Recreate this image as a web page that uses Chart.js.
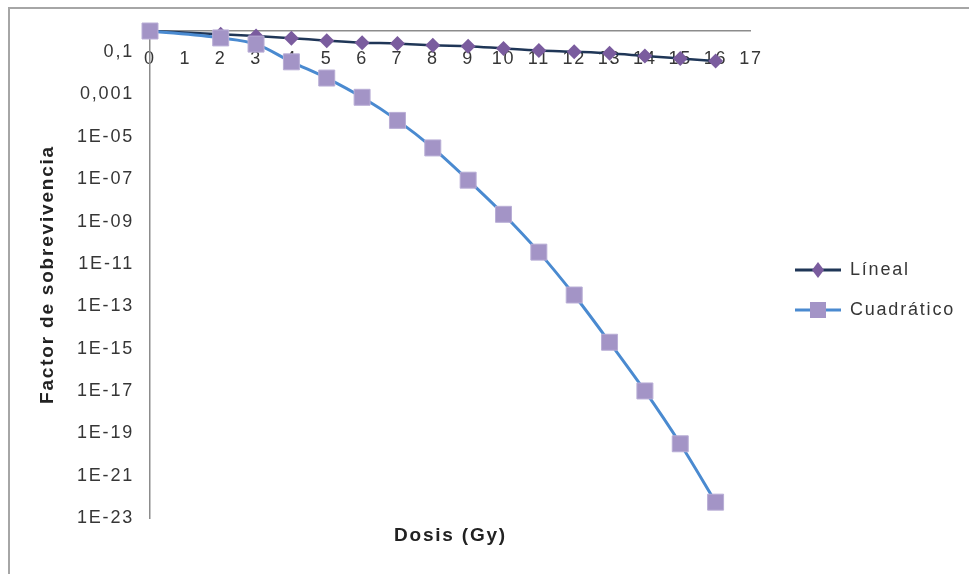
<!DOCTYPE html>
<html>
<head>
<meta charset="utf-8">
<script src="https://cdn.jsdelivr.net/npm/chart.js@4.4.1/dist/chart.umd.min.js"></script>
<style>
  html, body { margin: 0; padding: 0; background: #fff; }
  #wrap { position: relative; width: 969px; height: 575px; }
  #frame {
    position: absolute; left: 8px; top: 7px; right: 0; bottom: 1px;
    border-top: 2px solid #a6a6a6; border-left: 2px solid #a6a6a6;
    pointer-events: none;
  }
</style>
</head>
<body>
<div id="wrap">
  <canvas id="survivalChart" width="969" height="575"></canvas>
  <div id="frame"></div>
</div>
<script>
  const doses = [0, 2, 3, 4, 5, 6, 7, 8, 9, 10, 11, 12, 13, 14, 15, 16]
  const linealValues = [1, 0.71, 0.58, 0.46, 0.35, 0.28, 0.26, 0.21, 0.19, 0.15, 0.12, 0.105, 0.089, 0.066, 0.05, 0.038]
  const cuadraticoValues = [1, 0.47, 0.24, 0.035, 0.006, 7.4e-4, 6e-5, 3e-6, 9e-8, 2.2e-9, 3.6e-11, 3.4e-13, 2e-15, 1e-17, 3.2e-20, 5.6e-23]
  const seriesNames = ["Líneal", "Cuadrático"]

  const yTickValues = [1e-23, 1e-21, 1e-19, 1e-17, 1e-15, 1e-13, 1e-11, 1e-9, 1e-7, 1e-5, 1e-3, 1e-1]
  const yTickLabels = ["1E-23", "1E-21", "1E-19", "1E-17", "1E-15", "1E-13", "1E-11", "1E-09", "1E-07", "1E-05", "0,001", "0,1"]

  const toPoints = (values) => doses.map((d, i) => ({ x: d, y: values[i] }))

  // legend icon: short line with the marker in the middle (left part left blank as a gap)
  function legendIcon(lineColor, lineWidth, drawMarker) {
    const c = document.createElement("canvas")
    c.width = 68
    c.height = 18
    const g = c.getContext("2d")
    g.strokeStyle = lineColor
    g.lineWidth = lineWidth
    g.beginPath()
    g.moveTo(22, 9)
    g.lineTo(68, 9)
    g.stroke()
    drawMarker(g, 45, 9)
    return c
  }

  const linealIcon = legendIcon("#1f3657", 3, (g, x, y) => {
    g.fillStyle = "#7a5c9e"
    g.beginPath()
    g.moveTo(x, y - 8)
    g.lineTo(x + 6, y)
    g.lineTo(x, y + 8)
    g.lineTo(x - 6, y)
    g.closePath()
    g.fill()
  })

  const cuadraticoIcon = legendIcon("#4a8ad0", 3, (g, x, y) => {
    g.fillStyle = "#a394c6"
    g.fillRect(x - 8, y - 8, 16, 16)
  })

  const spacing = {
    id: "spacing",
    beforeUpdate(chart) { chart.ctx.letterSpacing = "1.8px" },
    beforeDraw(chart) { chart.ctx.letterSpacing = "1.8px" }
  }

  Chart.defaults.font.family = "'Liberation Sans', Arial, sans-serif"
  Chart.defaults.color = "#363636"

  new Chart(document.getElementById("survivalChart"), {
    type: "line",
    data: {
      datasets: [
        {
          label: seriesNames[0],
          data: toPoints(linealValues),
          borderColor: "#1f3657",
          borderWidth: 2.5,
          pointStyle: "rectRot",
          pointRadius: 7.5,
          pointBackgroundColor: "#7a5c9e",
          pointBorderColor: "#7a5c9e",
          pointBorderWidth: 0,
          cubicInterpolationMode: "monotone",
          clip: false,
          order: 1
        },
        {
          label: seriesNames[1],
          data: toPoints(cuadraticoValues),
          borderColor: "#4a8ad0",
          borderWidth: 3,
          pointStyle: "rect",
          pointRadius: 11.3,
          pointBackgroundColor: "#a394c6",
          pointBorderColor: "#b9aed6",
          pointBorderWidth: 1,
          cubicInterpolationMode: "monotone",
          clip: false,
          order: 0
        }
      ]
    },
    options: {
      responsive: false,
      animation: false,
      layout: {
        padding: { top: 31, right: 4, bottom: 0, left: 0 }
      },
      scales: {
        x: {
          type: "linear",
          position: { y: 1 },
          min: 0,
          max: 17,
          grid: { display: false, drawTicks: false },
          border: { display: true, color: "#8c8c8c", width: 1.5 },
          ticks: {
            stepSize: 1,
            autoSkip: false,
            maxRotation: 0,
            padding: 17,
            font: { size: 18 }
          }
        },
        xTitle: {
          type: "linear",
          position: "bottom",
          min: 0,
          max: 17,
          grid: { display: false, drawTicks: false },
          border: { display: false },
          ticks: { display: false },
          title: {
            display: true,
            text: "Dosis (Gy)",
            color: "#222",
            font: { size: 19, weight: "bold" },
            padding: { top: 6.6, bottom: 27.6 }
          }
        },
        y: {
          type: "logarithmic",
          min: 1e-23,
          max: 1,
          grid: { display: false, drawTicks: false },
          border: { display: true, color: "#8c8c8c", width: 1.5 },
          afterBuildTicks(scale) {
            scale.ticks = yTickValues.map((v) => ({ value: v }))
          },
          afterFit(scale) {
            scale.width = 150
          },
          ticks: {
            autoSkip: false,
            padding: 16,
            font: { size: 18 },
            callback: (value) => yTickLabels[yTickValues.indexOf(value)]
          },
          title: {
            display: true,
            text: "Factor de sobrevivencia",
            color: "#222",
            font: { size: 19, weight: "bold" },
            padding: { top: 36.6, bottom: 0 }
          }
        }
      },
      plugins: {
        legend: {
          position: "right",
          fullSize: false,
          title: {
            display: true,
            text: " ",
            font: { size: 10 },
            padding: 9.5
          },
          labels: {
            usePointStyle: true,
            pointStyleWidth: 68,
            padding: 22,
            color: "#363636",
            font: { size: 18 },
            sort: (a, b) => a.datasetIndex - b.datasetIndex,
            generateLabels(chart) {
              const items = Chart.defaults.plugins.legend.labels.generateLabels(chart)
              items.forEach((item) => {
                item.pointStyle = item.datasetIndex === 0 ? linealIcon : cuadraticoIcon
              })
              return items
            }
          }
        },
        tooltip: {
          callbacks: {
            label(context) {
              return `${context.dataset.label}: ${context.parsed.y.toExponential(2)}`
            }
          }
        }
      }
    },
    plugins: [spacing]
  })
</script>
</body>
</html>
